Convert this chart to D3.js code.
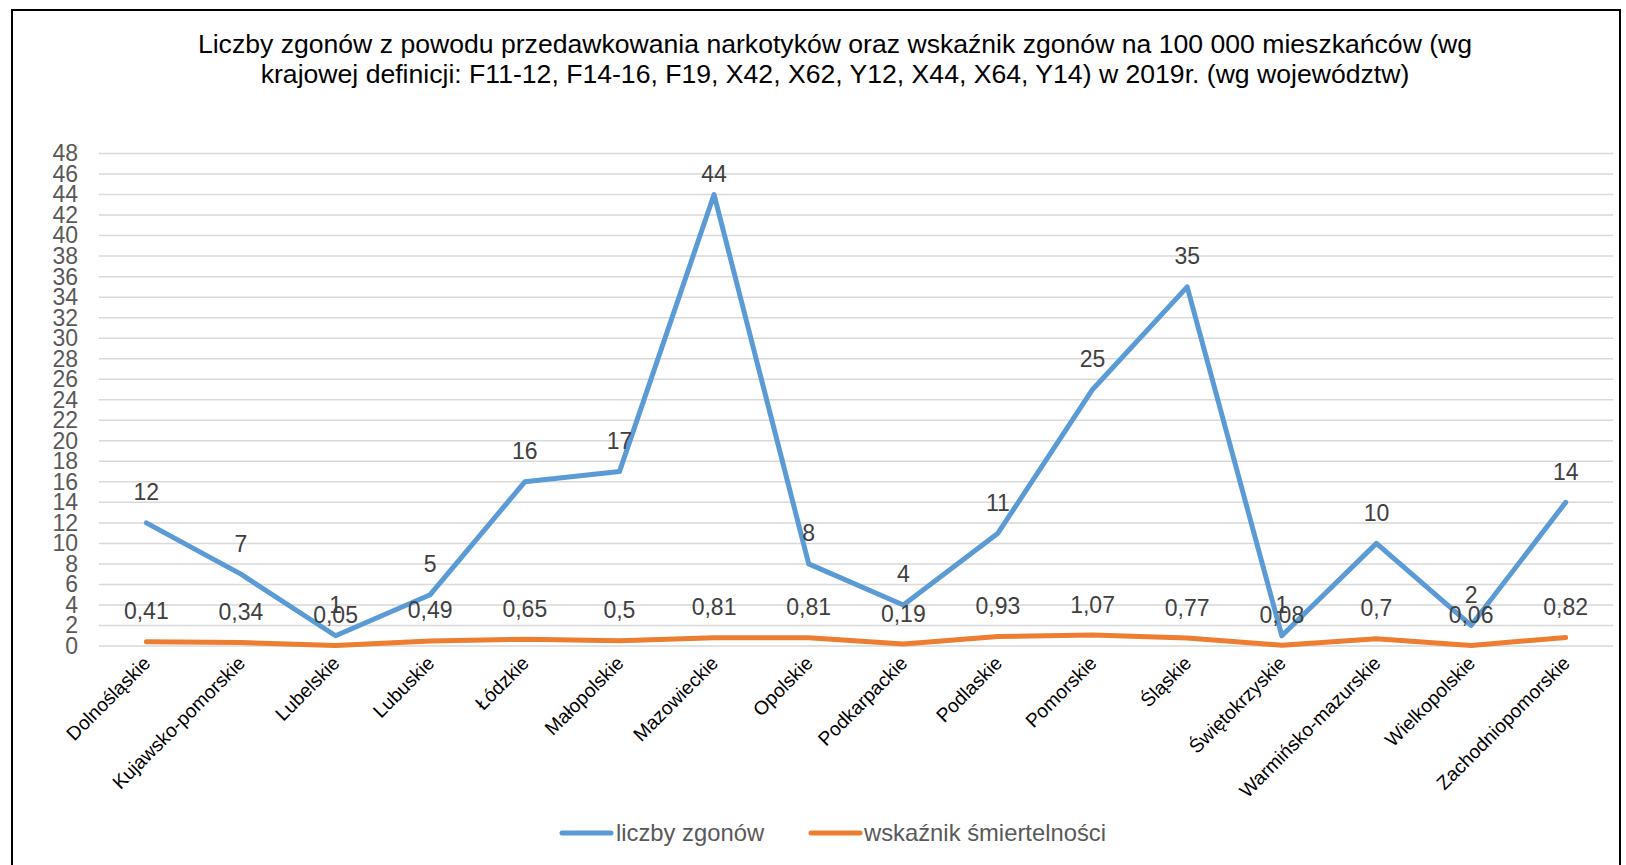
<!DOCTYPE html>
<html>
<head>
<meta charset="utf-8">
<script src="https://cdn.jsdelivr.net/npm/d3@7"></script>
<style>
  html, body { margin: 0; padding: 0; background: #fff; }
  svg { display: block; font-family: "Liberation Sans", Arial, sans-serif; }
</style>
</head>
<body>
<svg id="chart" width="1626" height="865"></svg>
<script>
const titleLines = [
  "Liczby zgonów z powodu przedawkowania narkotyków oraz wskaźnik zgonów na 100 000 mieszkańców (wg",
  "krajowej definicji: F11-12, F14-16, F19, X42, X62, Y12, X44, X64, Y14) w 2019r. (wg województw)"
];
const categories = ["Dolnośląskie","Kujawsko-pomorskie","Lubelskie","Lubuskie","Łódzkie","Małopolskie","Mazowieckie","Opolskie","Podkarpackie","Podlaskie","Pomorskie","Śląskie","Świętokrzyskie","Warmińsko-mazurskie","Wielkopolskie","Zachodniopomorskie"];
const deaths = [12, 7, 1, 5, 16, 17, 44, 8, 4, 11, 25, 35, 1, 10, 2, 14];
const rate = [0.41, 0.34, 0.05, 0.49, 0.65, 0.5, 0.81, 0.81, 0.19, 0.93, 1.07, 0.77, 0.08, 0.7, 0.06, 0.82];
const seriesNames = ["liczby zgonów", "wskaźnik śmiertelności"];
const yTicks = d3.range(0, 49, 2);

(function () {
const colors = ["#5B9BD5", "#ED7D31"];
const svg = d3.select("#chart");

// outer border
svg.append("rect").attr("x", 12).attr("y", 10).attr("width", 1608).attr("height", 870)
  .attr("fill", "none").attr("stroke", "#000").attr("stroke-width", 2);

// title
const title = svg.append("text").attr("text-anchor", "middle").attr("font-size", 26.6).attr("fill", "#000");
titleLines.forEach((t, i) => {
  title.append("tspan").attr("x", 835).attr("y", 52.5 + i * 30).text(t);
});

const pLeft = 99, pRight = 1613, pTop = 153.5, pBottom = 646;
const x = d3.scaleBand().domain(categories).range([pLeft, pRight]);
const y = d3.scaleLinear().domain([0, 48]).range([pBottom, pTop]);
const cx = c => x(c) + x.bandwidth() / 2;

// gridlines
svg.append("g").selectAll("line").data(yTicks).join("line")
  .attr("x1", pLeft).attr("x2", pRight)
  .attr("y1", d => y(d)).attr("y2", d => y(d))
  .attr("stroke", "#D9D9D9").attr("stroke-width", 1.5);

// y axis labels
const yAxis = svg.append("g").attr("transform", `translate(${pLeft},0)`)
  .call(d3.axisLeft(y).tickValues(yTicks).tickSize(0).tickPadding(21));
yAxis.select(".domain").remove();
yAxis.selectAll("text").attr("font-size", 23).attr("fill", "#595959")
  .attr("font-family", "'Liberation Sans', Arial, sans-serif");

// x axis labels
const xAxis = svg.append("g").attr("transform", `translate(0,${pBottom})`)
  .call(d3.axisBottom(x).tickSize(0).tickFormat(d => d));
xAxis.select(".domain").remove();
xAxis.selectAll("text")
  .attr("font-size", 19.3).attr("fill", "#000")
  .attr("font-family", "'Liberation Sans', Arial, sans-serif")
  .attr("text-anchor", "end")
  .attr("dy", "0.75em")
  .attr("transform", "translate(-7,6) rotate(-45)");

// lines
const series = [deaths, rate];
series.forEach((vals, si) => {
  const line = d3.line().x((d, i) => cx(categories[i])).y(d => y(d));
  svg.append("path").datum(vals).attr("d", line)
    .attr("fill", "none").attr("stroke", colors[si]).attr("stroke-width", 5)
    .attr("stroke-linejoin", "round").attr("stroke-linecap", "round");
});

// data labels
const fmt = v => String(v).replace(".", ",");
series.forEach((vals, si) => {
  svg.append("g").selectAll("text").data(vals).join("text")
    .attr("x", (d, i) => cx(categories[i]))
    .attr("y", d => Math.max(y(d) - 22.5, 182))
    .attr("text-anchor", "middle").attr("font-size", 23).attr("fill", "#404040")
    .text(d => fmt(d));
});

// legend
const legend = svg.append("g");
const legendItems = [{x: 562, tx: 616}, {x: 811, tx: 864}];
seriesNames.forEach((n, i) => {
  legend.append("line").attr("x1", legendItems[i].x).attr("x2", legendItems[i].x + 49)
    .attr("y1", 833).attr("y2", 833).attr("stroke", colors[i]).attr("stroke-width", 5)
    .attr("stroke-linecap", "round");
  legend.append("text").attr("x", legendItems[i].tx).attr("y", 841)
    .attr("font-size", 23.8).attr("fill", "#595959").text(n);
});
})();
</script>
</body>
</html>
